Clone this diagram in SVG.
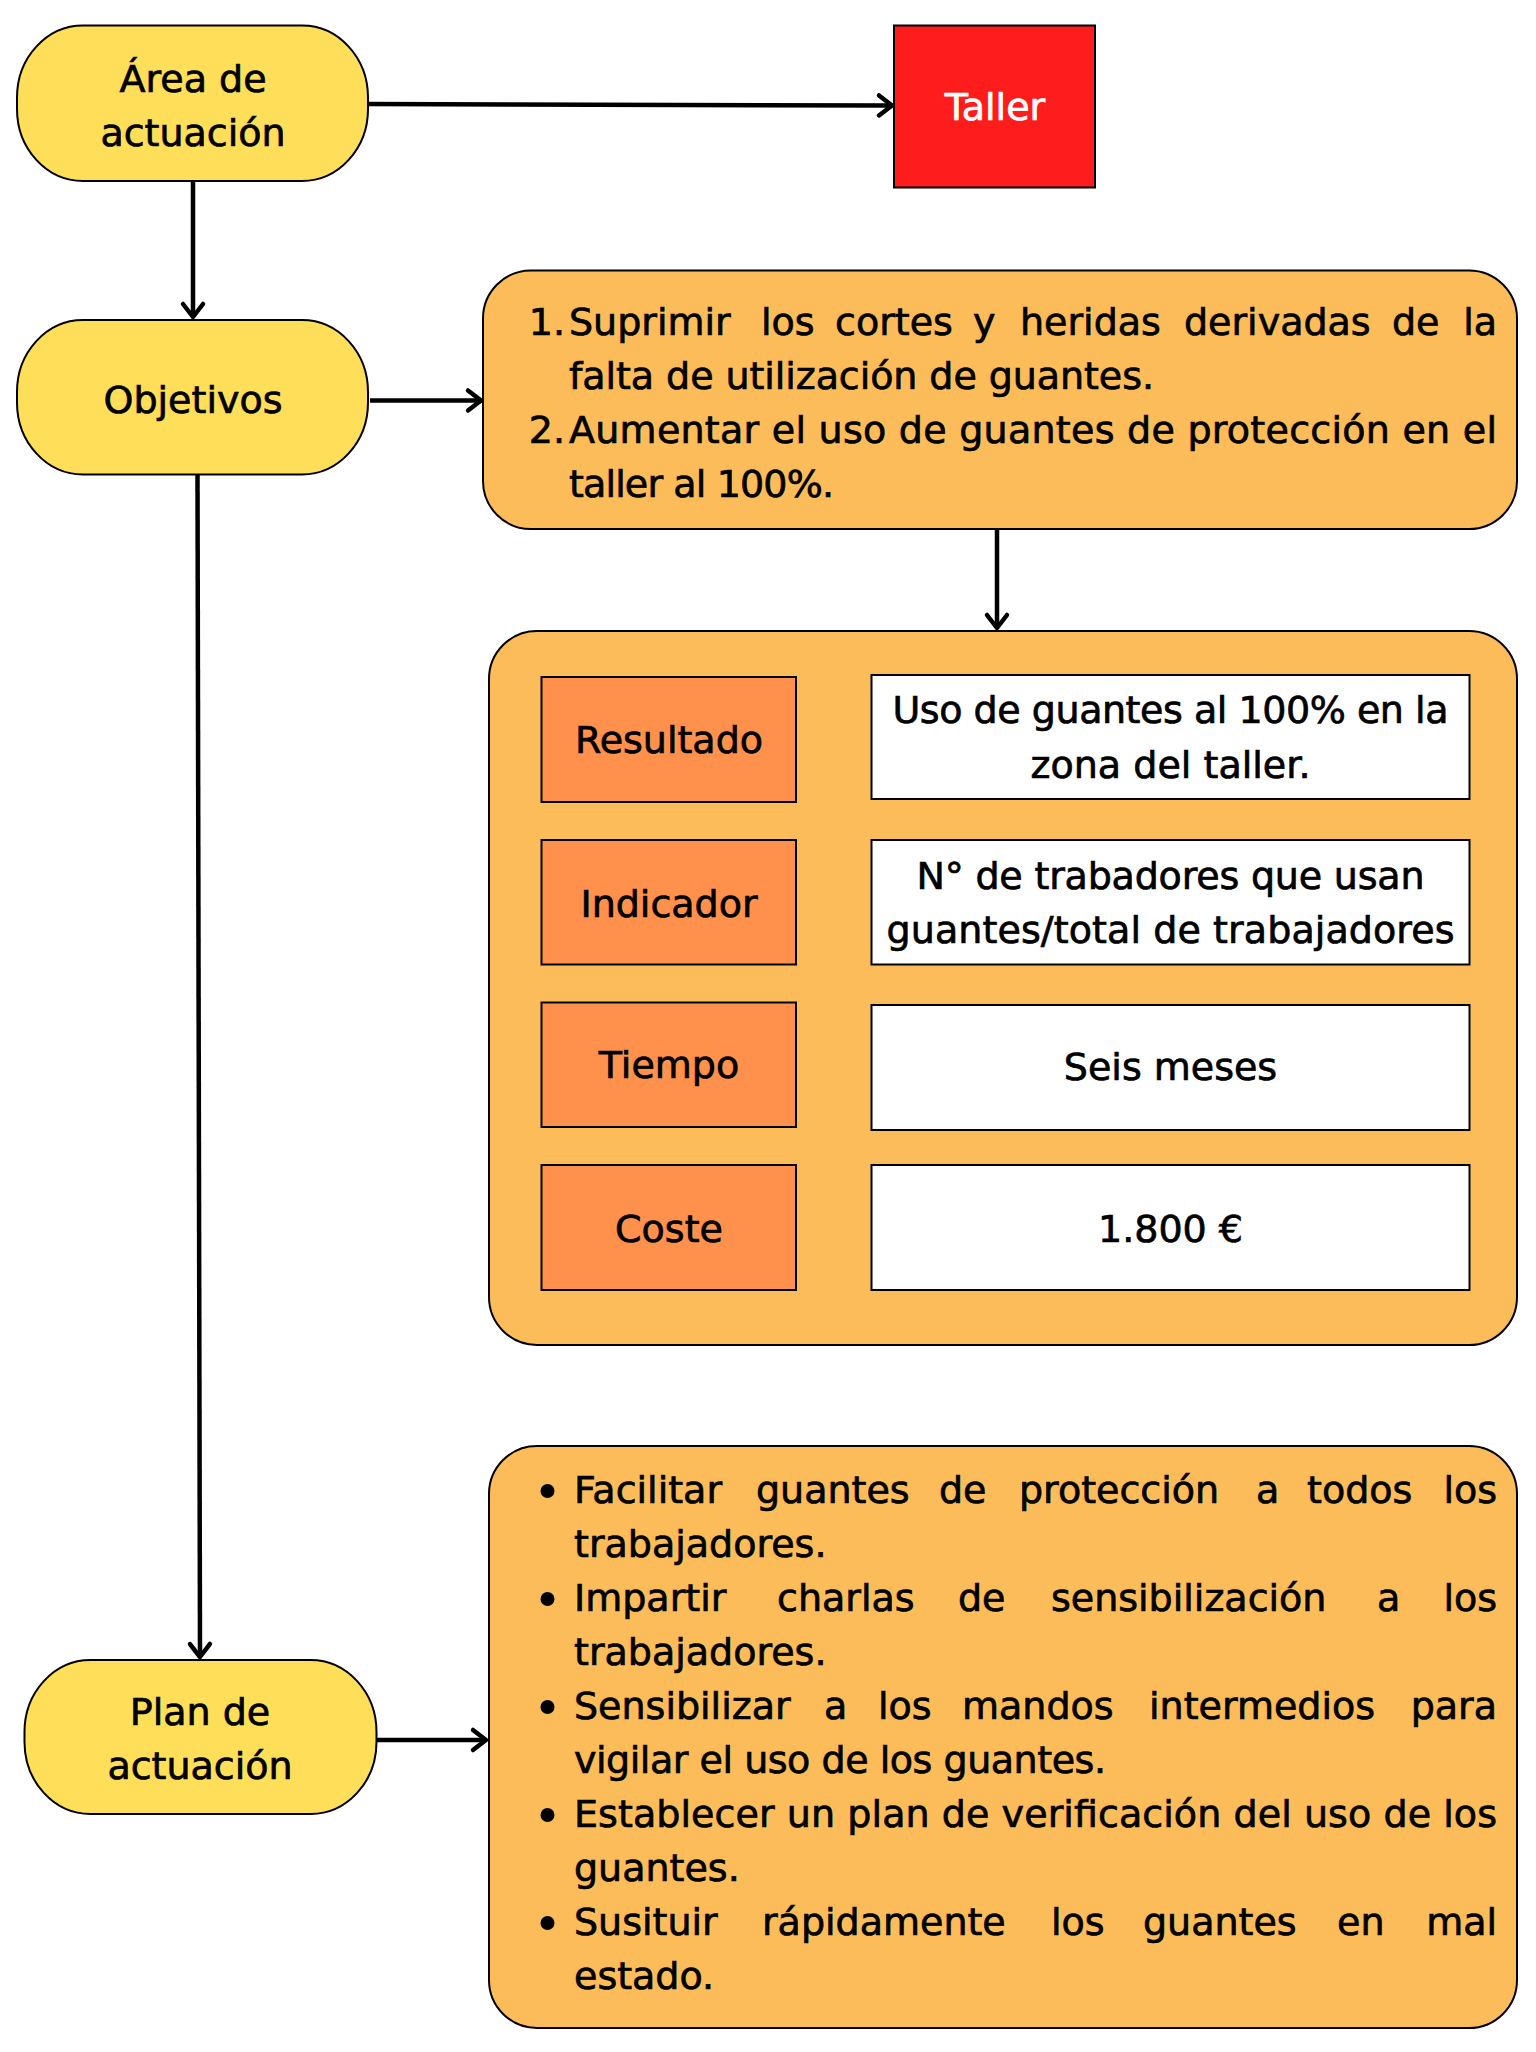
<svg xmlns="http://www.w3.org/2000/svg" width="1536" height="2052" viewBox="0 0 1536 2052">
<defs>
<style>
.t{font-family:"DejaVu Sans","Liberation Sans",sans-serif;font-size:38px;fill:#000;stroke:#000;stroke-width:0.7}
.m{text-anchor:middle}
.e{text-anchor:end}
.w{fill:#fff;stroke:#fff}
.pill{fill:#FFDE59;stroke:#000;stroke-width:2}
.box{fill:#FDBC5A;stroke:#000;stroke-width:2}
.co{fill:#FF914D;stroke:#000;stroke-width:2}
.cw{fill:#fff;stroke:#000;stroke-width:2}
.conn{stroke:#000;stroke-width:4.5;fill:none;marker-end:url(#arr)}
</style>
<marker id="arr" viewBox="-18 -14 22 28" refX="0" refY="0" markerWidth="22" markerHeight="28" markerUnits="userSpaceOnUse" orient="auto">
<path d="M-13,-10 L0,0 L-13,10" fill="none" stroke="#000" stroke-width="4.5" stroke-linecap="round" stroke-linejoin="round"/>
</marker>
</defs>
<rect width="1536" height="2052" fill="#fff"/>

<g id="connectors">
<line class="conn" x1="368" y1="104" x2="892" y2="105.5"/>
<line class="conn" x1="193" y1="181" x2="193" y2="317"/>
<line class="conn" x1="370" y1="400.5" x2="481" y2="400.5"/>
<line class="conn" x1="997" y1="529" x2="997" y2="628"/>
<line class="conn" x1="197.5" y1="474.5" x2="200" y2="1657"/>
<line class="conn" x1="377" y1="1740" x2="486" y2="1740"/>
<line class="conn" x1="796" y1="736" x2="869" y2="736"/>
<line class="conn" x1="796" y1="904.5" x2="869" y2="904.5"/>
<line class="conn" x1="796" y1="1072" x2="869" y2="1072"/>
<line class="conn" x1="796" y1="1240.5" x2="869" y2="1240.5"/>
</g>

<g id="area">
<rect class="pill" x="17" y="25.5" width="351" height="155.5" rx="66" ry="72"/>
<text class="t m" x="193" y="92">Área de</text>
<text class="t m" x="193" y="146">actuación</text>
</g>

<g id="taller">
<rect x="894" y="25.5" width="201" height="162" fill="#FF1C1C" stroke="#000" stroke-width="2"/>
<text class="t m w" x="995" y="120">Taller</text>
</g>

<g id="objetivos">
<rect class="pill" x="17" y="320" width="351" height="154.5" rx="66" ry="72"/>
<text class="t m" x="193" y="413">Objetivos</text>
</g>

<g id="objetivos-lista">
<rect class="box" x="483" y="270.5" width="1034" height="258.5" rx="48" ry="48"/>
<text class="t e" x="565" y="335">1.</text>
<text class="t" y="335"><tspan x="569">Suprimir</tspan><tspan x="761">los</tspan><tspan x="835">cortes</tspan><tspan x="973">y</tspan><tspan x="1020">heridas</tspan><tspan x="1184">derivadas</tspan><tspan x="1392">de</tspan></text>
<text class="t e" x="1497" y="335">la</text>
<text class="t" x="569" y="389" textLength="585">falta de utilización de guantes.</text>
<text class="t e" x="565" y="443">2.</text>
<text class="t" x="569" y="443" textLength="928">Aumentar el uso de guantes de protección en el</text>
<text class="t" x="569" y="496.5" textLength="265">taller al 100%.</text>
</g>

<g id="tabla">
<rect class="box" x="489" y="631" width="1028" height="714" rx="48" ry="48"/>
</g>

<g id="resultado">
<rect class="co" x="541.5" y="677" width="254.5" height="125"/>
<text class="t m" x="669" y="753">Resultado</text>
</g>
<g id="resultado-valor">
<rect class="cw" x="871.5" y="675" width="598" height="124"/>
<text class="t m" x="1170.5" y="723" textLength="556">Uso de guantes al 100% en la</text>
<text class="t m" x="1170.5" y="777.5" textLength="280">zona del taller.</text>
</g>

<g id="indicador">
<rect class="co" x="541.5" y="840" width="254.5" height="124.5"/>
<text class="t m" x="669" y="916.5">Indicador</text>
</g>
<g id="indicador-valor">
<rect class="cw" x="871.5" y="840" width="598" height="124.5"/>
<text class="t m" x="1170.5" y="889" textLength="508">N° de trabadores que usan</text>
<text class="t m" x="1170.5" y="942.5" textLength="568">guantes/total de trabajadores</text>
</g>

<g id="tiempo">
<rect class="co" x="541.5" y="1002.5" width="254.5" height="124.5"/>
<text class="t m" x="669" y="1078">Tiempo</text>
</g>
<g id="tiempo-valor">
<rect class="cw" x="871.5" y="1005" width="598" height="125"/>
<text class="t m" x="1170.5" y="1079.5">Seis meses</text>
</g>

<g id="coste">
<rect class="co" x="541.5" y="1165" width="254.5" height="125"/>
<text class="t m" x="669" y="1241.5">Coste</text>
</g>
<g id="coste-valor">
<rect class="cw" x="871.5" y="1165" width="598" height="125"/>
<text class="t m" x="1170.5" y="1241.5">1.800 €</text>
</g>

<g id="plan">
<rect class="pill" x="24.5" y="1660" width="352" height="154" rx="66" ry="72"/>
<text class="t m" x="200" y="1725">Plan de</text>
<text class="t m" x="200" y="1779">actuación</text>
</g>

<g id="plan-lista">
<rect class="box" x="489" y="1446" width="1028" height="582" rx="48" ry="48"/>
<circle cx="547.5" cy="1491" r="7"/>
<circle cx="547.5" cy="1599" r="7"/>
<circle cx="547.5" cy="1707" r="7"/>
<circle cx="547.5" cy="1815" r="7"/>
<circle cx="547.5" cy="1923" r="7"/>
<text class="t" y="1503"><tspan x="574">Facilitar</tspan><tspan x="756">guantes</tspan><tspan x="939">de</tspan><tspan x="1019">protección</tspan><tspan x="1256">a</tspan><tspan x="1307">todos</tspan></text>
<text class="t e" x="1497" y="1503">los</text>
<text class="t" x="574" y="1557">trabajadores.</text>
<text class="t" y="1611"><tspan x="574">Impartir</tspan><tspan x="777">charlas</tspan><tspan x="958">de</tspan><tspan x="1051">sensibilización</tspan><tspan x="1377">a</tspan></text>
<text class="t e" x="1497" y="1611">los</text>
<text class="t" x="574" y="1665">trabajadores.</text>
<text class="t" y="1719"><tspan x="574">Sensibilizar</tspan><tspan x="824">a</tspan><tspan x="878">los</tspan><tspan x="962">mandos</tspan><tspan x="1149">intermedios</tspan></text>
<text class="t e" x="1497" y="1719">para</text>
<text class="t" x="574" y="1773" textLength="532">vigilar el uso de los guantes.</text>
<text class="t" x="574" y="1827" textLength="923">Establecer un plan de verificación del uso de los</text>
<text class="t" x="574" y="1881">guantes.</text>
<text class="t" y="1935"><tspan x="574">Susituir</tspan><tspan x="762">rápidamente</tspan><tspan x="1051">los</tspan><tspan x="1143">guantes</tspan><tspan x="1337">en</tspan></text>
<text class="t e" x="1497" y="1935">mal</text>
<text class="t" x="574" y="1989">estado.</text>
</g>
</svg>
